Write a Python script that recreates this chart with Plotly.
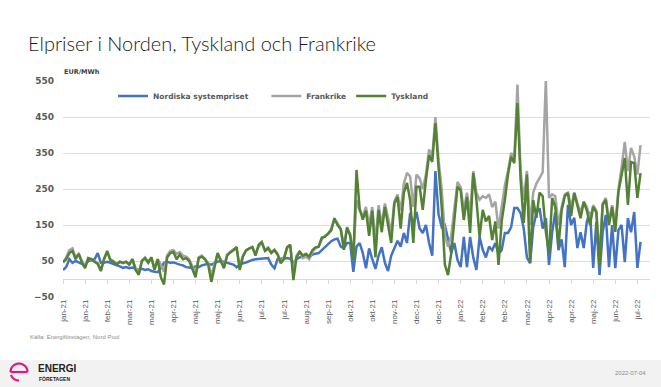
import math
import plotly.graph_objects as go
import pandas as pd

# ---------------- data (one value every 3 days) ----------------
dates = pd.date_range("2021-01-01", periods=184, freq="3D")

nordic = [
    25, 33, 55, 45, 50, 45, 42, 38, 50, 52, 55, 72, 45, 45, 48, 45, 42, 40, 35, 31,
    33, 30, 32, 28, 25, 28, 25, 27, 22, 20, 19, 30, 45, 48, 45, 46, 42, 40, 38,
    33, 32, 30, 35, 33, 38, 40, 42, 40, 45, 48, 50, 48, 45, 42, 40, 33, 38, 44, 46,
    50, 53, 55, 56, 57, 58, 58, 40, 30, 55, 56, 57, 58, 56, 45, 55, 60,
    62, 65, 60, 68, 70, 72, 80, 88, 95, 105, 110, 112, 90, 86, 100, 100, 20, 90, 100, 72,
    30, 85, 55, 28, 65, 88, 45, 22, 65, 85, 106, 90, 128, 100, 183, 150, 186, 140, 128, 150,
    100, 65, 300, 180, 144, 150, 110, 72, 100, 53, 33, 117, 33, 117, 60, 25, 117, 81, 60, 90,
    80, 100, 70, 80, 128, 128, 144, 197, 197, 183, 140, 60, 44, 144, 183,
    197, 140, 169, 39, 130, 186, 80, 110, 33, 206, 150, 170, 86, 130, 86, 160, 186, 31, 158, 11,
    130, 178, 33, 150, 30, 136, 150, 47, 169, 130, 186, 31, 103,
]

france = [
    45, 60, 80, 85, 60, 70, 50, 35, 58, 55, 50, 45, 25, 55, 75, 55, 50, 42, 48, 45,
    48, 40, 55, 30, 15, 50, 60, 48, 60, 28, 55, 40, 20, 65, 78, 80, 70, 75, 65,
    62, 55, 35, 15, 60, 65, 55, 45, 10, 40, 70, 55, 35, 68, 75, 82, 85, 35, 65, 78,
    85, 88, 70, 90, 100, 80, 88, 75, 82, 70, 45, 60, 85, 95, 20, 65, 78,
    58, 62, 55, 75, 85, 90, 110, 120, 125, 140, 165, 155, 140, 95, 140, 125, 65, 220, 190, 175,
    200, 150, 200, 100, 205, 150, 210, 170, 130, 215, 235, 190, 265, 295, 285, 200, 290, 280, 250, 290,
    360, 340, 450, 330, 250, 120, 90, 120, 200, 270, 255, 190, 240, 180, 300, 240, 220, 230, 225, 235,
    200, 215, 140, 200, 260, 300, 350, 340, 540, 300, 220, 300, 150, 240, 265,
    280, 297, 555, 225, 235, 230, 150, 200, 235, 240, 200, 240, 210, 185, 215, 200, 165, 205, 190, 60,
    210, 225, 160, 205, 150, 250, 310, 381, 300, 364, 340, 290, 372,
]

germany = [
    47, 55, 72, 78, 55, 70, 45, 30, 58, 55, 48, 42, 22, 55, 78, 52, 48, 40, 48, 44,
    48, 40, 55, 25, 12, 50, 58, 45, 60, 25, 55, 5, -15, 60, 72, 75, 55, 68, 55,
    58, 50, 25, 5, 58, 62, 55, 40, -8, 35, 72, 50, 30, 65, 74, 80, 89, 25, 62, 80,
    85, 89, 65, 95, 103, 78, 85, 72, 80, 68, 44, 55, 88, 95, -3, 60, 75,
    65, 70, 62, 80, 88, 90, 115, 117, 125, 135, 169, 150, 138, 81, 144, 120, 53, 303, 195, 165,
    190, 120, 190, 60, 192, 130, 200, 150, 100, 210, 228, 140, 239, 267, 219, 100, 256, 256, 192, 275,
    344, 325, 433, 311, 200, 40, 11, 70, 160, 256, 247, 164, 228, 128, 294, 220, 117, 192, 160, 175,
    108, 160, 39, 160, 219, 290, 340, 322, 489, 275, 156, 290, 44, 219, 170,
    240, 230, 131, 70, 225, 200, 90, 190, 230, 239, 175, 239, 200, 169, 214, 190, 150, 200, 185, 39,
    206, 220, 150, 200, 131, 242, 289, 336, 206, 325, 322, 225, 294,
]

series_names = ["Nordiska systempriset", "Frankrike", "Tyskland"]
series_colors = ["#4472C4", "#A5A5A5", "#548235"]

tick_dates = pd.date_range("2021-01-01", periods=27, freq="21D")
tick_labels = ["jan-21", "jan-21", "feb-21", "mar-21", "mar-21", "apr-21", "maj-21", "maj-21",
               "jun-21", "jul-21", "jul-21", "aug-21", "sep-21", "okt-21", "okt-21", "nov-21",
               "dec-21", "dec-21", "jan-22", "feb-22", "feb-22", "mar-22", "apr-22", "apr-22",
               "maj-22", "jun-22", "jul-22"]
y_ticks = [-50, 50, 150, 250, 350, 450, 550]

title_text = "Elpriser i Norden, Tyskland och Frankrike"
unit_text = "EUR/MWh"
source_text = "Källa: Energiföretagen, Nord Pool"
date_text = "2022-07-04"

# ---------------- figure ----------------
W, H = 661, 387
ML, MR, MT, MB = 63, 11, 81, 90
PW, PH = W - ML - MR, H - MT - MB


def px(x):
    return (x - ML) / PW


def py(y):
    return (H - MB - y) / PH


x_range = ["2021-01-01", "2022-07-13"]

# legend entries: the first one is padded so the entries sit where the original has them
legend_labels = [series_names[0] + "\u00a0" * 5, series_names[1], series_names[2]]

fig = go.Figure()
for name, vals, col in zip(legend_labels, [nordic, france, germany], series_colors):
    fig.add_trace(go.Scatter(x=dates, y=vals, name=name, mode="lines",
                             line=dict(color=col, width=2.5)))
# invisible copy that carries the axis drawn at y = 0
fig.add_trace(go.Scatter(x=dates, y=nordic, xaxis="x2", mode="lines", opacity=0,
                         line=dict(width=0), showlegend=False, hoverinfo="skip"))

fig.update_layout(
    width=W, height=H,
    margin=dict(l=ML, r=MR, t=MT, b=MB, autoexpand=False),
    paper_bgcolor="white", plot_bgcolor="white",
    title=dict(text=title_text, x=28 / W, xanchor="left", xref="container",
               y=1 - 44 / H, yanchor="middle", yref="container",
               font=dict(family="Lato", size=20, color="#1a1a1a", weight=300)),
    xaxis=dict(type="date", range=x_range, tickvals=tick_dates, ticktext=tick_labels,
               tickangle=-90, showgrid=False, zeroline=False, showline=False, ticks="",
               automargin=False,
               tickfont=dict(family="Liberation Sans", size=8, color="#595959")),
    xaxis2=dict(type="date", overlaying="x", anchor="free", position=50 / 600,
                range=x_range, tickvals=tick_dates, showticklabels=False, showgrid=False,
                zeroline=False, showline=True, linecolor="#D9D9D9", linewidth=1,
                ticks="outside", ticklen=4, tickcolor="#D9D9D9", layer="below traces"),
    yaxis=dict(range=[-50, 550], tickvals=y_ticks, showgrid=True, gridcolor="#DDDDDD",
               gridwidth=1, zeroline=False, showline=False, ticks="",
               ticklabelstandoff=8, automargin=False,
               tickfont=dict(family="DejaVu Sans", size=9, color="#595959", weight="bold")),
    legend=dict(orientation="h", x=px(113), xanchor="left", y=py(96), yanchor="middle",
                bgcolor="rgba(0,0,0,0)",
                font=dict(family="DejaVu Sans", size=7.5, color="#595959", weight="bold")),
    showlegend=True,
)

fig.add_annotation(text=unit_text, xref="paper", yref="paper", x=px(62), y=py(72),
                   xanchor="left", yanchor="middle", showarrow=False,
                   font=dict(family="DejaVu Sans", size=6.5, color="#404040", weight="bold"))
fig.add_annotation(text=source_text, xref="paper", yref="paper", x=px(28), y=py(337),
                   xanchor="left", yanchor="middle", showarrow=False,
                   font=dict(family="Liberation Sans", size=6, color="#8C8C8C"))

# footer band
fig.add_shape(type="rect", xref="paper", yref="paper", x0=px(0), x1=px(W), y0=py(H), y1=py(360),
              fillcolor="#F2F2F2", line=dict(width=0), layer="below")
fig.add_annotation(text=date_text, xref="paper", yref="paper", x=px(648), y=py(373),
                   xanchor="right", yanchor="middle", showarrow=False,
                   font=dict(family="Liberation Sans", size=6, color="#8C8C8C"))


def arc_path(cx, cy, r, a0, a1, n=24):
    pts = []
    for k in range(n + 1):
        a = math.radians(a0 + (a1 - a0) * k / n)
        pts.append((px(cx + r * math.cos(a)), py(cy - r * math.sin(a))))
    return "M " + " L ".join(f"{x:.5f},{y:.5f}" for x, y in pts)


pink = "#E5177E"
fig.add_shape(type="path", xref="paper", yref="paper", path=arc_path(19, 372, 8.5, 0, 180),
              line=dict(color=pink, width=2.2))
fig.add_shape(type="path", xref="paper", yref="paper", path=arc_path(19, 372, 8.5, 200, 270),
              line=dict(color=pink, width=2.2))
fig.add_shape(type="line", xref="paper", yref="paper", x0=px(10.5), x1=px(27.5),
              y0=py(372), y1=py(372), line=dict(color=pink, width=2.2))
fig.add_annotation(text="<b>ENERGI</b>", xref="paper", yref="paper", x=px(36), y=py(368),
                   xanchor="left", yanchor="middle", showarrow=False,
                   font=dict(family="Liberation Sans", size=10, color="#222222"))
fig.add_annotation(text="<b>FÖRETAGEN</b>", xref="paper", yref="paper", x=px(37), y=py(379),
                   xanchor="left", yanchor="middle", showarrow=False,
                   font=dict(family="Liberation Sans", size=5, color="#222222"))

fig.write_html("out.html", config={"displayModeBar": False},
               post_script="document.body.style.margin='0';")
